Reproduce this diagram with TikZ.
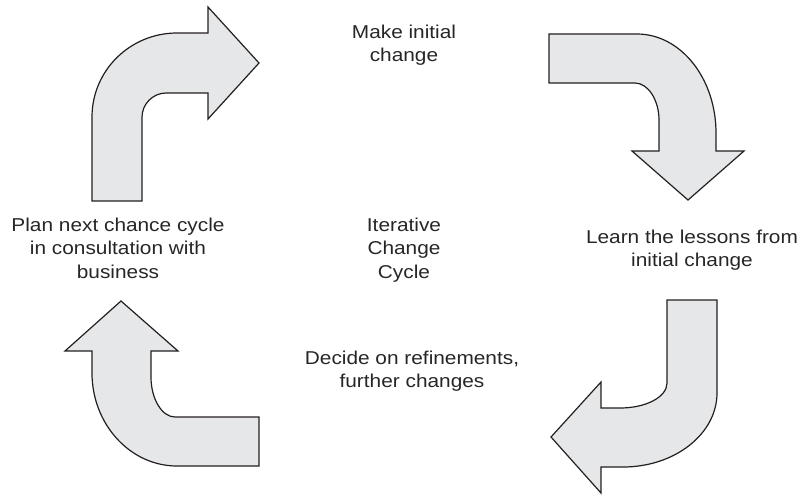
\documentclass[tikz,border=0pt]{standalone}
\usepackage{fontspec}
\setmainfont{Liberation Sans}[FakeStretch=1.12]
\usepackage{tikz}
\usetikzlibrary{positioning}

\definecolor{arrowfill}{HTML}{E6E7E8}
\definecolor{arrowline}{HTML}{231F20}

\begin{document}
\begin{tikzpicture}[
  x=0.5pt, y=-0.5pt,
  bent/.style={draw=arrowline, fill=arrowfill, line width=0.6pt, line join=miter},
  lbl/.style={align=center, inner sep=0pt, text=black!85,
    font=\fontsize{9.3pt}{11.75pt}\selectfont}
]
\useasboundingbox (0,0) rectangle (803,494);

% stage labels
\node[lbl] (make)   at (404,45)  {Make initial\\change};
\node[lbl] (learn)  at (692,250) {Learn the lessons from\\initial change};
\node[lbl] (decide) at (412,371) {Decide on refinements,\\further changes};
\node[lbl] (plan)   at (118,248) {Plan next chance cycle\\in consultation with\\business};
\node[lbl] (cycle)  at (404,250) {Iterative\\Change\\Cycle};

% bent arrows, clockwise from top left
\draw[bent] (92,201) -- (92,117) .. controls (92,70.6) and (130,33) .. (177,33)
  -- (208,33) -- (208,7) -- (259,63) -- (208,119) -- (208,93) -- (166,93)
  .. controls (153,93) and (142,104) .. (142,117) -- (142,201) -- cycle;
\draw[bent] (549,34) -- (637,34) .. controls (680.6,34) and (716,78.3) .. (716,133)
  -- (716,151) -- (744,151) -- (688,200) -- (632,151) -- (659,151) -- (659,120)
  .. controls (659,100) and (648,83) .. (635,83) -- (549,83) -- cycle;
\draw[bent] (667,300) -- (717,300) -- (717,393) .. controls (717,433.8) and (674.9,467) .. (623,467)
  -- (601,467) -- (601,493) -- (551,437) -- (601,382) -- (601,408) -- (620,408)
  .. controls (646,408) and (667,397) .. (667,383) -- cycle;
\draw[bent] (259,417) -- (175,417) .. controls (162,417) and (151,399) .. (151,377)
  -- (151,351) -- (178,351) -- (121,301) -- (65,351) -- (92,351) -- (92,373)
  .. controls (92,424) and (130,466) .. (177,466) -- (259,466) -- cycle;
\end{tikzpicture}
\end{document}
